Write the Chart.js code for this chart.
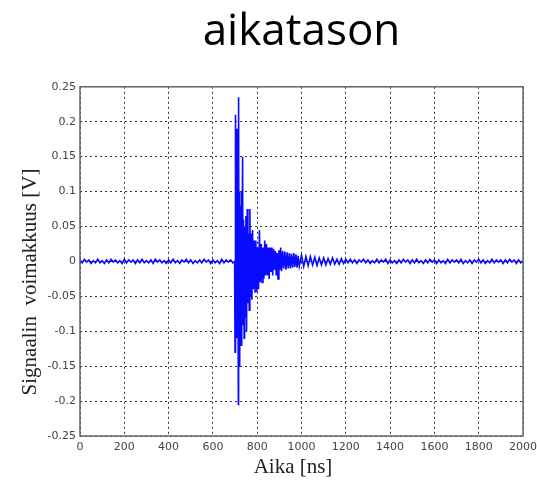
<!DOCTYPE html>
<html>
<head>
<meta charset="utf-8">
<script src="https://cdn.jsdelivr.net/npm/chart.js@4/dist/chart.umd.min.js"></script>
<style>
    html, body { margin: 0; padding: 0; background: #fff; }
    #wrap { width: 537px; height: 494px; }
</style>
</head>
<body>
<div id="wrap"><canvas id="signalChart" width="537" height="494"></canvas></div>
<script>
const chartTitle = 'aikatason';
const xTitle = 'Aika [ns]';
const yTitle = 'Signaalin  voimakkuus [V]';

const xTicks = [0, 200, 400, 600, 800, 1000, 1200, 1400, 1600, 1800, 2000];
const yTicks = [-0.25, -0.2, -0.15, -0.1, -0.05, 0, 0.05, 0.1, 0.15, 0.2, 0.25];

// noise before the pulse [ns, V]
const preSignal = [
    [0, 0.002], [10, -0.002], [20, 0.003], [30, -0.001], [40, 0.002],
    [50, -0.003], [60, 0.001], [70, -0.002], [80, 0.003], [90, -0.002],
    [100, 0.001], [110, -0.003], [120, 0.002], [130, -0.002], [140, 0.003],
    [150, -0.001], [160, 0.002], [170, -0.002], [180, 0.001], [190, -0.003],
    [200, 0.003], [210, -0.002], [220, 0.002], [230, -0.001], [240, 0.002],
    [250, -0.003], [260, 0.002], [270, -0.002], [280, 0.003], [290, -0.002],
    [300, 0.001], [310, -0.002], [320, 0.002], [330, -0.003], [340, 0.003],
    [350, -0.001], [360, 0.002], [370, -0.002], [380, 0.001], [390, -0.003],
    [400, 0.002], [410, -0.002], [420, 0.003], [430, -0.002], [440, 0.001],
    [450, -0.003], [460, 0.002], [470, -0.001], [480, 0.003], [490, -0.002],
    [500, 0.002], [510, -0.003], [520, 0.001], [530, -0.002], [540, 0.002],
    [550, -0.002], [560, 0.003], [570, -0.001], [580, 0.002], [590, -0.003],
    [600, 0.002], [610, -0.002], [620, 0.001], [630, -0.003], [640, 0.003],
    [650, -0.002], [660, 0.002], [670, -0.001], [680, 0.002], [690, -0.002]
];

// the pulse and its ringing
const burstSignal = [
    [698, 0.0], [700, -0.13], [701, 0.21], [703, -0.12], [705, 0.04],
    [707, -0.11], [709, 0.19], [711, -0.09], [713, 0.12], [715, -0.205],
    [716, 0.235], [718, -0.15], [720, 0.10], [722, -0.14], [724, 0.08],
    [727, -0.12], [729, 0.10], [731, -0.10], [734, 0.15], [736, -0.09],
    [738, 0.06], [741, -0.11], [743, 0.05], [746, -0.08], [749, 0.065],
    [752, -0.10], [755, 0.075], [758, -0.06], [761, 0.04], [764, -0.07],
    [767, 0.075], [770, -0.05], [773, 0.04], [776, -0.055], [779, 0.045],
    [782, -0.04], [786, 0.03], [790, -0.045], [794, 0.03], [798, -0.044],
    [802, 0.02], [806, -0.04], [810, 0.045], [814, -0.03], [818, 0.025],
    [822, -0.03], [826, 0.02], [830, -0.025], [834, 0.03], [838, -0.02],
    [842, 0.025], [846, -0.02], [850, 0.02], [854, -0.025], [858, 0.02],
    [862, -0.015], [866, 0.02], [870, -0.02], [874, 0.018], [878, -0.012],
    [882, 0.015], [886, -0.02], [890, 0.012], [894, -0.025], [898, 0.016],
    [902, -0.012], [906, 0.02], [910, -0.014], [915, 0.015], [920, -0.01],
    [925, 0.014], [930, -0.012], [935, 0.013], [940, -0.01], [945, 0.012],
    [950, -0.01], [955, 0.011], [960, -0.009], [965, 0.012], [970, -0.008],
    [975, 0.01], [980, -0.009], [985, 0.008], [990, -0.007], [1000, 0.009],
    [1010, -0.007], [1020, 0.007], [1030, -0.006], [1040, 0.007], [1050, -0.005],
    [1060, 0.006], [1070, -0.006], [1080, 0.005], [1090, -0.005], [1100, 0.005],
    [1110, -0.005], [1120, 0.004], [1130, -0.004], [1140, 0.005], [1150, -0.004],
    [1160, 0.003], [1170, -0.004], [1180, 0.004], [1190, -0.003], [1200, 0.003]
];

// noise after the pulse
const tailSignal = [
    [1210, -0.002], [1220, 0.003], [1230, -0.002], [1240, 0.002], [1250, -0.003],
    [1260, 0.002], [1270, -0.001], [1280, 0.003], [1290, -0.002], [1300, 0.002],
    [1310, -0.003], [1320, 0.001], [1330, -0.002], [1340, 0.003], [1350, -0.002],
    [1360, 0.002], [1370, -0.001], [1380, 0.003], [1390, -0.003], [1400, 0.002],
    [1410, -0.002], [1420, 0.001], [1430, -0.003], [1440, 0.002], [1450, -0.002],
    [1460, 0.003], [1470, -0.001], [1480, 0.002], [1490, -0.003], [1500, 0.002],
    [1510, -0.002], [1520, 0.003], [1530, -0.002], [1540, 0.001], [1550, -0.003],
    [1560, 0.002], [1570, -0.002], [1580, 0.003], [1590, -0.001], [1600, 0.002],
    [1610, -0.003], [1620, 0.002], [1630, -0.002], [1640, 0.001], [1650, -0.003],
    [1660, 0.003], [1670, -0.002], [1680, 0.002], [1690, -0.001], [1700, 0.002],
    [1710, -0.002], [1720, 0.003], [1730, -0.003], [1740, 0.001], [1750, -0.002],
    [1760, 0.002], [1770, -0.003], [1780, 0.002], [1790, -0.001], [1800, 0.003],
    [1810, -0.002], [1820, 0.002], [1830, -0.003], [1840, 0.001], [1850, -0.002],
    [1860, 0.003], [1870, -0.002], [1880, 0.002], [1890, -0.001], [1900, 0.002],
    [1910, -0.003], [1920, 0.002], [1930, -0.002], [1940, 0.003], [1950, -0.001],
    [1960, 0.002], [1970, -0.003], [1980, 0.002], [1990, -0.002], [2000, 0.001]
];

const points = [...preSignal, ...burstSignal, ...tailSignal].map(([x, y]) => ({ x, y }));

const tickFont = { family: 'DejaVu Sans', size: 11 };

// frame round the plot and the two axis titles
const framePlugin = {
    id: 'frame',
    afterDraw(chart) {
        const { ctx, chartArea: a } = chart;
        ctx.save();
        ctx.strokeStyle = '#666';
        ctx.lineWidth = 1.5;
        ctx.strokeRect(a.left, a.top, a.right - a.left, a.bottom - a.top);

        ctx.fillStyle = '#222';
        ctx.font = '21px "Liberation Serif"';
        ctx.textAlign = 'center';
        ctx.textBaseline = 'middle';
        ctx.fillText(xTitle, 293, 467);

        ctx.translate(30, 282);
        ctx.rotate(-Math.PI / 2);
        ctx.fillText(yTitle, 0, 0);
        ctx.restore();
    }
};

new Chart(document.getElementById('signalChart'), {
    type: 'line',
    data: {
        datasets: [{
            data: points,
            borderColor: '#0a0aff',
            borderWidth: 1.6,
            pointRadius: 0,
            tension: 0
        }]
    },
    options: {
        responsive: false,
        animation: false,
        layout: { padding: { right: 14 } },
        plugins: {
            legend: { display: false },
            tooltip: { enabled: false },
            title: {
                display: true,
                fullSize: false,
                text: chartTitle,
                color: '#000',
                font: { family: 'Open Sans', size: 44, weight: 'normal', lineHeight: 1.2 },
                padding: { top: 6, bottom: 28 }
            }
        },
        scales: {
            x: {
                type: 'linear',
                min: 0,
                max: 2000,
                afterBuildTicks: s => { s.ticks = xTicks.map(v => ({ value: v })); },
                afterFit: s => { s.height = 58; s.paddingRight = 0; s.paddingLeft = 0; },
                ticks: { color: '#444', font: tickFont, padding: 5, maxRotation: 0, callback: v => String(v) },
                grid: { color: '#333', lineWidth: 1, drawTicks: false },
                border: { display: false, dash: [2, 3] }
            },
            y: {
                min: -0.25,
                max: 0.25,
                afterBuildTicks: s => { s.ticks = yTicks.map(v => ({ value: v })); },
                afterFit: s => { s.width = 80; },
                ticks: {
                    color: '#444',
                    font: tickFont,
                    padding: 4,
                    callback: v => String(Number(v.toFixed(2)))
                },
                grid: { color: '#333', lineWidth: 1, drawTicks: false },
                border: { display: false, dash: [2, 3] }
            }
        }
    },
    plugins: [framePlugin]
});
</script>
</body>
</html>
